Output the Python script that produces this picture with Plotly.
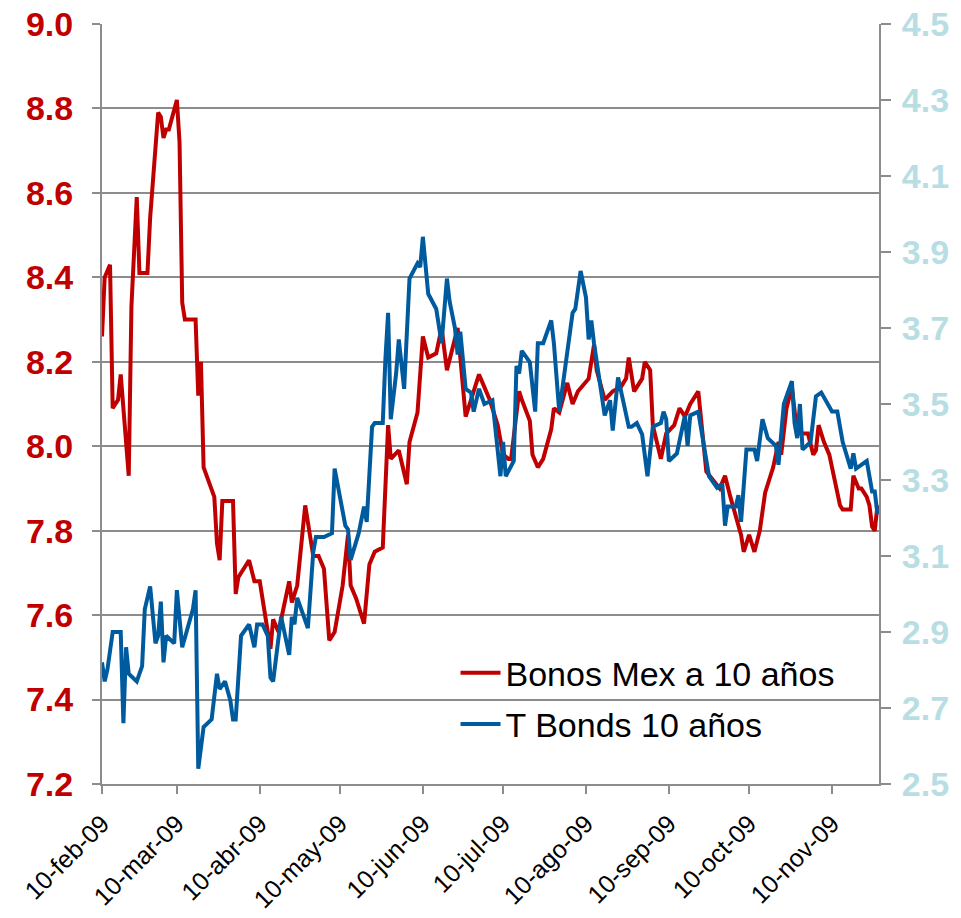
import plotly.graph_objects as go

# ---------------- data ----------------
red_name = "Bonos Mex a 10 años"
red_dates = [
    "2009-02-10", "2009-02-11", "2009-02-13", "2009-02-14", "2009-02-16", "2009-02-17", "2009-02-20", "2009-02-21",
    "2009-02-23", "2009-02-24", "2009-02-27", "2009-02-28", "2009-03-03", "2009-03-04", "2009-03-05", "2009-03-06",
    "2009-03-07", "2009-03-10", "2009-03-11", "2009-03-12", "2009-03-13", "2009-03-17", "2009-03-18", "2009-03-19",
    "2009-03-20", "2009-03-24", "2009-03-25", "2009-03-26", "2009-03-27", "2009-03-31", "2009-04-01", "2009-04-02",
    "2009-04-06", "2009-04-08", "2009-04-10", "2009-04-13", "2009-04-14", "2009-04-15", "2009-04-17", "2009-04-21",
    "2009-04-22", "2009-04-24", "2009-04-27", "2009-04-30", "2009-05-02", "2009-05-04", "2009-05-06", "2009-05-08",
    "2009-05-11", "2009-05-13", "2009-05-14", "2009-05-16", "2009-05-19", "2009-05-21", "2009-05-23", "2009-05-26",
    "2009-05-28", "2009-05-29", "2009-06-01", "2009-06-04", "2009-06-05", "2009-06-08", "2009-06-10", "2009-06-12",
    "2009-06-15", "2009-06-17", "2009-06-19", "2009-06-23", "2009-06-26", "2009-06-28", "2009-07-01", "2009-07-03",
    "2009-07-05", "2009-07-08", "2009-07-10", "2009-07-12", "2009-07-13", "2009-07-16", "2009-07-17", "2009-07-20",
    "2009-07-21", "2009-07-23", "2009-07-25", "2009-07-28", "2009-07-29", "2009-07-31", "2009-08-03", "2009-08-05",
    "2009-08-07", "2009-08-11", "2009-08-13", "2009-08-14", "2009-08-17", "2009-08-20", "2009-08-23", "2009-08-25",
    "2009-08-26", "2009-08-28", "2009-08-31", "2009-09-01", "2009-09-03", "2009-09-04", "2009-09-06", "2009-09-07",
    "2009-09-09", "2009-09-12", "2009-09-14", "2009-09-16", "2009-09-18", "2009-09-21", "2009-09-24", "2009-09-29",
    "2009-10-01", "2009-10-03", "2009-10-07", "2009-10-08", "2009-10-10", "2009-10-12", "2009-10-14", "2009-10-16",
    "2009-10-19", "2009-10-21", "2009-10-22", "2009-10-24", "2009-10-26", "2009-10-27", "2009-10-28", "2009-11-01",
    "2009-11-03", "2009-11-04", "2009-11-05", "2009-11-07", "2009-11-09", "2009-11-13", "2009-11-14", "2009-11-17",
    "2009-11-18", "2009-11-20", "2009-11-21", "2009-11-23", "2009-11-24", "2009-11-25", "2009-11-26", "2009-11-27",
]
red_vals = [
    8.26, 8.40, 8.43, 8.09, 8.11, 8.17, 7.93, 8.33,
    8.59, 8.41, 8.41, 8.54, 8.79, 8.78, 8.73, 8.75,
    8.75, 8.82, 8.72, 8.34, 8.30, 8.30, 8.12, 8.20,
    7.95, 7.88, 7.77, 7.73, 7.87, 7.87, 7.65, 7.69,
    7.73, 7.68, 7.68, 7.56, 7.52, 7.59, 7.56, 7.68,
    7.63, 7.67, 7.86, 7.74, 7.74, 7.71, 7.54, 7.56,
    7.67, 7.79, 7.67, 7.64, 7.58, 7.72, 7.75, 7.76,
    8.05, 7.97, 7.99, 7.91, 8.01, 8.08, 8.26, 8.21,
    8.22, 8.28, 8.18, 8.28, 8.07, 8.11, 8.17, 8.14,
    8.11, 8.05, 7.98, 7.97, 7.97, 8.13, 8.11, 8.06,
    7.98, 7.95, 7.97, 8.04, 8.09, 8.08, 8.15, 8.10,
    8.13, 8.16, 8.24, 8.18, 8.11, 8.13, 8.14, 8.16,
    8.21, 8.13, 8.16, 8.20, 8.18, 8.05, 8.00, 7.97,
    8.03, 8.05, 8.09, 8.07, 8.10, 8.13, 7.94, 7.90,
    7.93, 7.88, 7.79, 7.75, 7.79, 7.75, 7.80, 7.89,
    7.95, 8.01, 7.98, 8.09, 8.14, 8.09, 8.03, 8.03,
    7.98, 7.99, 8.05, 8.01, 7.98, 7.86, 7.85, 7.85,
    7.93, 7.90, 7.90, 7.88, 7.86, 7.81, 7.80, 7.86,
]

blue_name = "T Bonds 10 años"
blue_dates = [
    "2009-02-10", "2009-02-11", "2009-02-12", "2009-02-14", "2009-02-17", "2009-02-18", "2009-02-19", "2009-02-20",
    "2009-02-23", "2009-02-25", "2009-02-26", "2009-02-28", "2009-03-02", "2009-03-03", "2009-03-04", "2009-03-05",
    "2009-03-06", "2009-03-09", "2009-03-10", "2009-03-12", "2009-03-14", "2009-03-16", "2009-03-17", "2009-03-18",
    "2009-03-20", "2009-03-23", "2009-03-25", "2009-03-26", "2009-03-28", "2009-03-30", "2009-03-31", "2009-04-01",
    "2009-04-03", "2009-04-06", "2009-04-08", "2009-04-09", "2009-04-11", "2009-04-13", "2009-04-14", "2009-04-15",
    "2009-04-18", "2009-04-21", "2009-04-22", "2009-04-23", "2009-04-24", "2009-04-28", "2009-04-30", "2009-05-01",
    "2009-05-04", "2009-05-07", "2009-05-08", "2009-05-12", "2009-05-13", "2009-05-14", "2009-05-17", "2009-05-19",
    "2009-05-20", "2009-05-22", "2009-05-23", "2009-05-26", "2009-05-27", "2009-05-28", "2009-05-29", "2009-05-31",
    "2009-06-01", "2009-06-03", "2009-06-05", "2009-06-08", "2009-06-09", "2009-06-10", "2009-06-12", "2009-06-15",
    "2009-06-17", "2009-06-19", "2009-06-20", "2009-06-22", "2009-06-23", "2009-06-24", "2009-06-26", "2009-06-28",
    "2009-06-29", "2009-07-01", "2009-07-03", "2009-07-06", "2009-07-09", "2009-07-10", "2009-07-11", "2009-07-14",
    "2009-07-15", "2009-07-16", "2009-07-17", "2009-07-20", "2009-07-22", "2009-07-23", "2009-07-25", "2009-07-28",
    "2009-07-29", "2009-07-31", "2009-08-05", "2009-08-06", "2009-08-08", "2009-08-10", "2009-08-11", "2009-08-12",
    "2009-08-13", "2009-08-15", "2009-08-17", "2009-08-19", "2009-08-20", "2009-08-22", "2009-08-26", "2009-08-27",
    "2009-08-29", "2009-08-31", "2009-09-02", "2009-09-04", "2009-09-07", "2009-09-08", "2009-09-09", "2009-09-10",
    "2009-09-13", "2009-09-16", "2009-09-17", "2009-09-18", "2009-09-21", "2009-09-25", "2009-09-28", "2009-09-30",
    "2009-10-01", "2009-10-02", "2009-10-05", "2009-10-06", "2009-10-07", "2009-10-09", "2009-10-12", "2009-10-13",
    "2009-10-15", "2009-10-17", "2009-10-20", "2009-10-21", "2009-10-22", "2009-10-23", "2009-10-26", "2009-10-27",
    "2009-10-28", "2009-10-29", "2009-10-30", "2009-11-02", "2009-11-04", "2009-11-06", "2009-11-10", "2009-11-12",
    "2009-11-14", "2009-11-17", "2009-11-18", "2009-11-19", "2009-11-23", "2009-11-25", "2009-11-26", "2009-11-27",
]
blue_vals = [
    2.82, 2.77, 2.80, 2.90, 2.90, 2.66, 2.86, 2.79,
    2.77, 2.81, 2.96, 3.02, 2.87, 2.89, 2.98, 2.82,
    2.89, 2.87, 3.01, 2.86, 2.91, 2.96, 3.01, 2.54,
    2.65, 2.67, 2.79, 2.75, 2.77, 2.72, 2.67, 2.67,
    2.89, 2.92, 2.86, 2.92, 2.92, 2.89, 2.78, 2.77,
    2.94, 2.84, 2.94, 2.92, 2.99, 2.91, 3.11, 3.15,
    3.15, 3.16, 3.33, 3.18, 3.17, 3.09, 3.16, 3.23,
    3.19, 3.44, 3.45, 3.45, 3.62, 3.74, 3.46, 3.58,
    3.67, 3.54, 3.83, 3.87, 3.86, 3.94, 3.79, 3.75,
    3.66, 3.83, 3.77, 3.70, 3.63, 3.69, 3.54, 3.53,
    3.48, 3.54, 3.50, 3.51, 3.31, 3.40, 3.31, 3.35,
    3.60, 3.58, 3.64, 3.61, 3.48, 3.66, 3.66, 3.72,
    3.66, 3.48, 3.74, 3.75, 3.85, 3.78, 3.67, 3.72,
    3.66, 3.57, 3.47, 3.51, 3.43, 3.57, 3.44, 3.44,
    3.45, 3.42, 3.31, 3.44, 3.45, 3.48, 3.46, 3.35,
    3.37, 3.47, 3.39, 3.47, 3.48, 3.31, 3.28, 3.29,
    3.18, 3.23, 3.23, 3.26, 3.19, 3.38, 3.38, 3.35,
    3.46, 3.41, 3.39, 3.34, 3.41, 3.50, 3.56, 3.45,
    3.41, 3.50, 3.38, 3.40, 3.52, 3.53, 3.48, 3.48,
    3.40, 3.33, 3.37, 3.33, 3.35, 3.27, 3.27, 3.21,
]

tick_dates = ["2009-02-10", "2009-03-10", "2009-04-10", "2009-05-10", "2009-06-10",
              "2009-07-10", "2009-08-10", "2009-09-10", "2009-10-10", "2009-11-10"]
tick_labels = ["10-feb-09", "10-mar-09", "10-abr-09", "10-may-09", "10-jun-09",
               "10-jul-09", "10-ago-09", "10-sep-09", "10-oct-09", "10-nov-09"]
x_range = ["2009-02-10", "2009-11-27 14:00"]
left_range = [7.2, 9.0]
right_range = [2.5, 4.5]

# ---------------- styles ----------------
RED = "#C00000"
BLUE = "#005A9E"
LIGHT = "#B8DEE4"
GRID = "#8C8C8C"
FONT = "Liberation Sans, Arial, sans-serif"

fig = go.Figure()
fig.add_trace(go.Scatter(x=red_dates, y=red_vals, name=red_name, mode="lines",
                         line=dict(color=RED, width=4), legendgroup="a", yaxis="y"))
fig.add_trace(go.Scatter(x=blue_dates, y=blue_vals, name=blue_name, mode="lines",
                         line=dict(color=BLUE, width=4), legendgroup="b", yaxis="y2"))

fig.update_layout(
    width=961, height=918,
    margin=dict(l=102, r=82, t=24, b=134, autoexpand=False),
    paper_bgcolor="white", plot_bgcolor="white",
    font=dict(family=FONT, color="black"),
    showlegend=True,
    legend=dict(x=0.455, y=0.184, xanchor="left", yanchor="top",
                font=dict(size=34, color="black", family=FONT),
                bgcolor="rgba(0,0,0,0)", tracegroupgap=4, itemwidth=40),
    xaxis=dict(type="date", range=x_range, tickvals=tick_dates, ticktext=tick_labels,
               tickangle=-45, tickfont=dict(size=25, color="black", family=FONT),
               showgrid=False, showline=True, linecolor=GRID, linewidth=2,
               ticks="outside", ticklen=8, tickwidth=2, tickcolor=GRID, zeroline=False,
               ticklabelstandoff=5, automargin=False),
    yaxis=dict(range=left_range, dtick=0.2, tick0=7.2, tickformat=".1f",
               tickfont=dict(size=34, color=RED, family=FONT, weight="bold"),
               showgrid=True, gridcolor=GRID, gridwidth=2,
               showline=True, linecolor=GRID, linewidth=2,
               ticks="outside", ticklen=8, tickwidth=2, tickcolor=GRID,
               ticklabelstandoff=12, zeroline=False, automargin=False),
    yaxis2=dict(range=right_range, dtick=0.2, tick0=2.5, tickformat=".1f",
                overlaying="y", side="right",
                tickfont=dict(size=34, color=LIGHT, family=FONT, weight="bold"),
                showgrid=False, showline=True, linecolor=GRID, linewidth=2,
                ticks="outside", ticklen=10, tickwidth=2, tickcolor=GRID,
                ticklabelstandoff=4, zeroline=False, automargin=False),
)

fig.write_html("out.html")
